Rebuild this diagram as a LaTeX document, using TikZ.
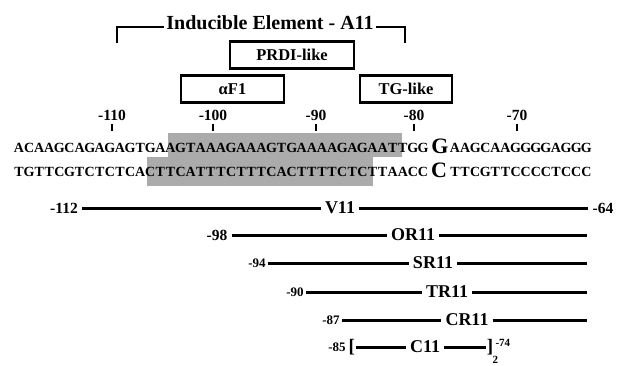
\documentclass[tikz,border=0pt]{standalone}
\usepackage{fontspec}
\setmainfont{Liberation Serif}
\begin{document}
\begin{tikzpicture}[x=1pt,y=-1pt,
  titlelab/.style={font=\bfseries\fontsize{20}{20}\selectfont, inner sep=2.5pt},
  boxlab/.style={draw, line width=2.3pt, minimum height=27pt, inner sep=0pt,
     font=\bfseries\fontsize{16.5}{16.5}\selectfont},
  ticklab/.style={font=\bfseries\fontsize{15.5}{15.5}\selectfont, inner sep=0pt},
  tickmark/.style={line width=1.6pt},
  brk/.style={line width=2pt},
  nt/.style={font=\bfseries\fontsize{14}{14}\selectfont, inner sep=0pt, anchor=base},
  ntbig/.style={font=\bfseries\fontsize{22}{22}\selectfont, inner sep=0pt, anchor=base},
  shadebox/.style={fill=black!33},
  seg/.style={line width=3pt},
  rowlab/.style={font=\bfseries\fontsize{18}{18}\selectfont, inner sep=4pt},
  bignum/.style={font=\bfseries\fontsize{15.5}{15.5}\selectfont, inner sep=4pt},
  smallnum/.style={font=\bfseries\fontsize{13}{13}\selectfont, inner sep=2pt},
  tinynum/.style={font=\bfseries\fontsize{11}{11}\selectfont, inner sep=0pt},
  sqbr/.style={font=\bfseries\fontsize{19}{19}\selectfont, inner sep=0.5pt}
]
\useasboundingbox (0,0) rectangle (623,365);

% bracket with title
\node[titlelab, anchor=mid] (title) at (270,27) {Inducible Element - A11};
\coordinate (bl) at (117,43);
\coordinate (br) at (405,43);
\draw[brk] (bl) |- (title.mid west);
\draw[brk] (title.mid east) -| (br);

% boxes
\node[boxlab, minimum width=124pt] (prdi) at (292,55) {PRDI-like};
\node[boxlab, minimum width=103pt] (af1) at (232.5,89) {αF1};
\node[boxlab, minimum width=92pt] (tg) at (406,89) {TG-like};

% tick labels and marks
\foreach \x/\l [count=\k] in {112/-110,213/-100,316/-90,414/-80,517/-70}{
  \node[ticklab] (tl\k) at (\x,115) {\l};
  \draw[tickmark] (\x,124) -- (\x,131);
}

% shading
\fill[shadebox] (168,133) rectangle (402,157);
\fill[shadebox] (147,157) rectangle (373,186);

% top strand
\foreach \c [count=\i] in {A,C,A,A,G,C,A,G,A,G,A,G,T,G,A,A,G,T,A,A,A,G,A,A,A,G,T,G,A,A,A,A,G,A,G,A,A,T,T,G,G}
  \node[nt] (ta\i) at ({19+(\i-1)*10.1},152) {\c};
\node[ntbig] (tbig) at (440,153) {G};
\foreach \c [count=\i] in {A,A,G,C,A,A,G,G,G,G,A,G,G,G}
  \node[nt] (tb\i) at ({455+(\i-1)*10.1},152) {\c};

% bottom strand
\foreach \c [count=\i] in {T,G,T,T,C,G,T,C,T,C,T,C,A,C,T,T,C,A,T,T,T,C,T,T,T,C,A,C,T,T,T,T,C,T,C,T,T,A,A,C,C}
  \node[nt] (ba\i) at ({19+(\i-1)*10.1},176) {\c};
\node[ntbig] (bbig) at (439,177) {C};
\foreach \c [count=\i] in {T,T,C,G,T,T,C,C,C,C,T,C,C,C}
  \node[nt] (bb\i) at ({455+(\i-1)*10.1},176) {\c};

% deletion constructs
\node[bignum] (n112) at (64,208) {-112};
\node[rowlab] (v11) at (340,208) {V11};
\node[bignum] (n64) at (603,208) {-64};
\draw[seg] (n112.east) -- (v11.west);
\draw[seg] (v11.east) -- (n64.west);

\node[bignum] (n98) at (217,235) {-98};
\node[rowlab] (or11) at (413,235) {OR11};
\coordinate (e2) at (587,235);
\draw[seg] (n98.east) -- (or11.west);
\draw[seg] (or11.east) -- (e2);

\node[smallnum] (n94) at (257,263) {-94};
\node[rowlab] (sr11) at (433,263) {SR11};
\coordinate (e3) at (587,263);
\draw[seg] (n94.east) -- (sr11.west);
\draw[seg] (sr11.east) -- (e3);

\node[smallnum] (n90) at (295,292) {-90};
\node[rowlab] (tr11) at (447,292) {TR11};
\coordinate (e4) at (587,292);
\draw[seg] (n90.east) -- (tr11.west);
\draw[seg] (tr11.east) -- (e4);

\node[smallnum] (n87) at (331,320) {-87};
\node[rowlab] (cr11) at (467,320) {CR11};
\coordinate (e5) at (587,320);
\draw[seg] (n87.east) -- (cr11.west);
\draw[seg] (cr11.east) -- (e5);

\node[smallnum] (n85) at (337,347) {-85};
\node[sqbr, anchor=west] (lb) at (n85.east) {[};
\node[rowlab] (c11) at (425,347) {C11};
\node[sqbr] (rb) at (490,347) {]};
\draw[seg] (lb.east) -- (c11.west);
\draw[seg] (c11.east) -- (rb.west);
\node[tinynum, anchor=west] (n74) at ([xshift=1.5pt,yshift=4pt]rb.east) {-74};
\node[tinynum, anchor=north west] (n2) at ([xshift=-1.5pt,yshift=-0.5pt]rb.south east) {2};
\end{tikzpicture}
\end{document}
